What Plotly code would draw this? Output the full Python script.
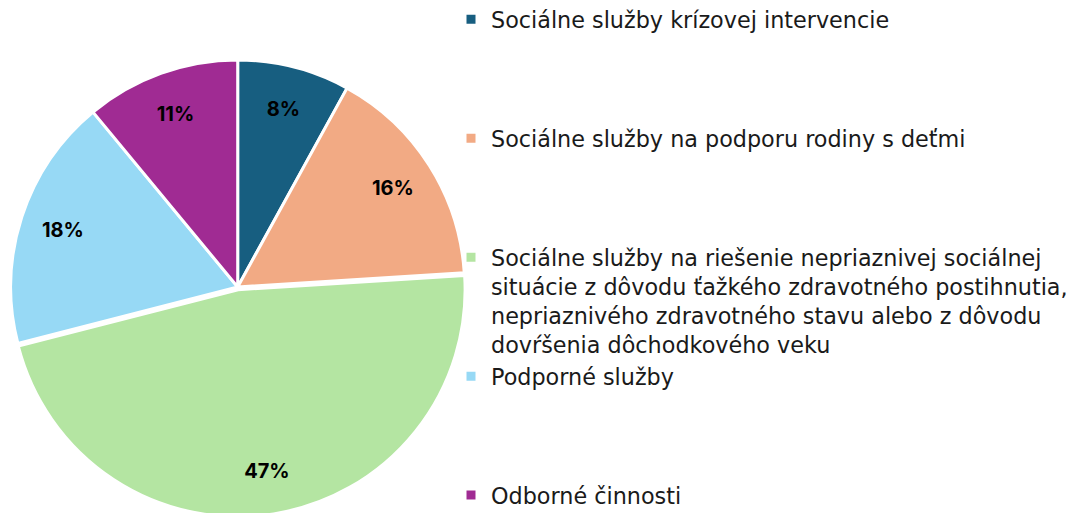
import plotly.graph_objects as go

categories = [
    "Sociálne služby krízovej intervencie",
    "Sociálne služby na podporu rodiny s deťmi",
    "Sociálne služby na riešenie nepriaznivej sociálnej<br>situácie z dôvodu ťažkého zdravotného postihnutia,<br>nepriaznivého zdravotného stavu alebo z dôvodu<br>dovŕšenia dôchodkového veku",
    "Podporné služby",
    "Odborné činnosti",
]
values = [8, 16, 47, 18, 11]
colors = ["#175e80", "#f2aa84", "#b4e5a2", "#97d9f5", "#a02b93"]
pulls = [0, 0, 0.012, 0, 0]

# pad legend labels so every legend slot has the same height (4 lines)
legend_labels = []
for i, c in enumerate(categories):
    n_lines = c.count("<br>") + 1
    if i < len(categories) - 1 and n_lines < 4:
        legend_labels.append(c + "<br>\u00a0" * (4 - n_lines))
    else:
        legend_labels.append(c)

W, H = 1080, 513
domain = dict(x=[0, 459.4 / W], y=[4.3 / H, 463.7 / H])

fig = go.Figure()
# coloured slices
fig.add_trace(
    go.Pie(
        labels=legend_labels,
        values=values,
        sort=False,
        direction="clockwise",
        rotation=0,
        pull=pulls,
        marker=dict(colors=colors, line=dict(color="white", width=3)),
        textinfo="none",
        domain=domain,
        hoverinfo="label+percent",
    )
)
# transparent ring used only to place the percentage labels near the rim
fig.add_trace(
    go.Pie(
        labels=legend_labels,
        values=values,
        sort=False,
        direction="clockwise",
        rotation=0,
        pull=pulls,
        hole=0.62,
        marker=dict(colors=["rgba(0,0,0,0)"] * len(values), line=dict(width=0)),
        texttemplate="%{percent:.0%}",
        textposition="inside",
        insidetextorientation="horizontal",
        textfont=dict(family="Inter", size=20, color="black", weight="bold"),
        domain=domain,
        showlegend=False,
        hoverinfo="skip",
    )
)

fig.update_layout(
    width=W,
    height=H,
    margin=dict(l=0, r=0, t=0, b=0, autoexpand=False),
    paper_bgcolor="white",
    plot_bgcolor="white",
    showlegend=True,
    legend=dict(
        x=443 / W,
        xanchor="left",
        y=1.019,
        yanchor="top",
        valign="top",
        font=dict(family="DejaVu Sans", size=22.3, color="#1a1a1a"),
        bgcolor="rgba(0,0,0,0)",
        traceorder="normal",
        maxheight=600,
    ),
)

fig.write_html("out.html")
